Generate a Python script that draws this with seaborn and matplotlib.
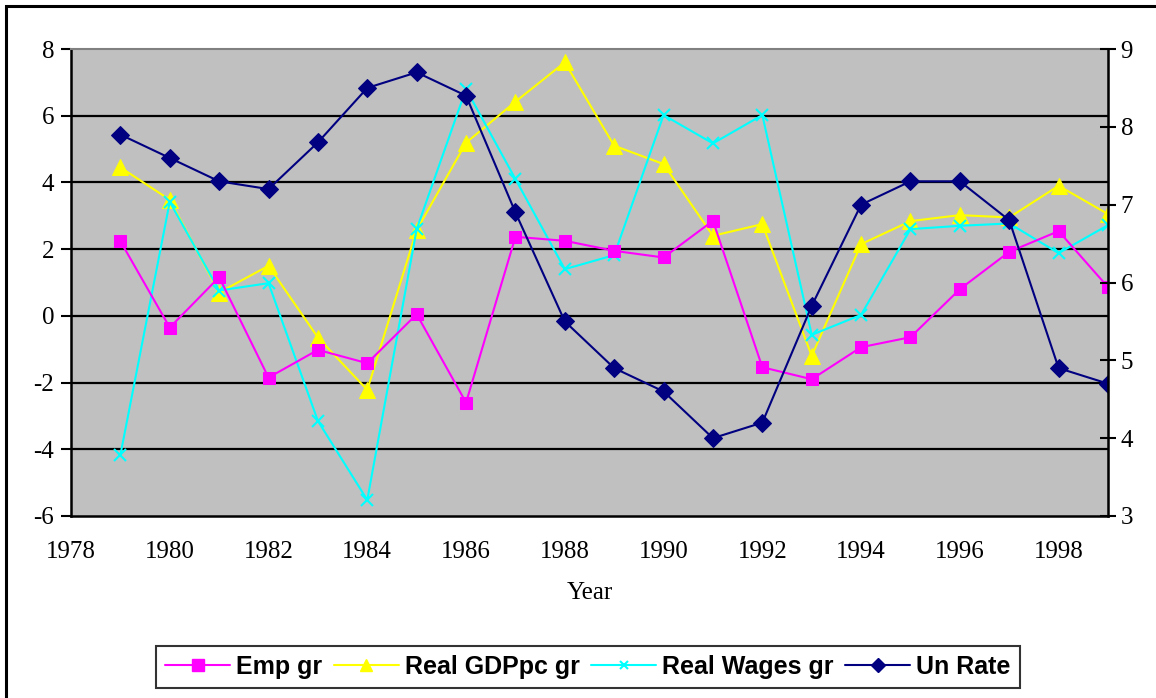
import numpy as np
import pandas as pd
import seaborn as sns
import matplotlib.pyplot as plt
from matplotlib.patches import Rectangle
from matplotlib.lines import Line2D

# data
years = list(range(1979, 2000))
emp_gr = [2.24, -0.35, 1.16, -1.85, -1.02, -1.42, 0.05, -2.6, 2.37, 2.25, 1.95,
          1.75, 2.85, -1.54, -1.9, -0.94, -0.64, 0.8, 1.92, 2.54, 0.86]
gdp_gr = [4.45, 3.48, 0.7, 1.5, -0.65, -2.22, 2.57, 5.19, 6.42, 7.6, 5.1,
          4.55, 2.4, 2.75, -1.2, 2.15, 2.84, 3.02, 2.95, 3.9, 3.05]
wages_gr = [-4.17, 3.42, 0.76, 0.98, -3.15, -5.52, 2.6, 6.8, 4.1, 1.4, 1.82,
            6.02, 5.17, 6.02, -0.57, 0.03, 2.6, 2.7, 2.77, 1.88, 2.72]
un_rate = [7.9, 7.6, 7.3, 7.2, 7.8, 8.5, 8.7, 8.4, 6.9, 5.5, 4.9,
           4.6, 4.0, 4.2, 5.7, 7.0, 7.3, 7.3, 6.8, 4.9, 4.7]

x_ticks = list(range(1978, 1999, 2))
left_ticks = list(range(-6, 9, 2))
right_ticks = list(range(3, 10))

df = pd.DataFrame({"Year": years, "Emp gr": emp_gr, "Real GDPpc gr": gdp_gr,
                   "Real Wages gr": wages_gr, "Un Rate": un_rate})

sns.set_style("white")
plt.rcParams["font.family"] = ["Liberation Serif", "DejaVu Serif"]
plt.rcParams["axes.unicode_minus"] = False
plt.rcParams["text.color"] = "black"
plt.rcParams["axes.labelcolor"] = "black"

fig = plt.figure(figsize=(11.56, 6.98), dpi=100)
ax = fig.add_axes([71 / 1156, 1 - 516 / 698, (1108 - 71) / 1156, (516 - 49) / 698])
ax.set_facecolor("#c0c0c0")

# outer chart frame
fig.patches.append(Rectangle((6 / 1156, -0.05), 1.1, 1 - 6 / 698 + 0.05,
                             transform=fig.transFigure, fill=False,
                             edgecolor="black", linewidth=2.2, zorder=0))

for yv in left_ticks[1:-1]:
    ax.axhline(yv, color="black", linewidth=1.6, zorder=0.5)

sns.lineplot(data=df, x="Year", y="Emp gr", ax=ax, color="#ff00ff", marker="s",
             markersize=9, markeredgecolor="#ff00ff", linewidth=1.5, zorder=3)
sns.lineplot(data=df, x="Year", y="Real GDPpc gr", ax=ax, color="#ffff00", marker="^",
             markersize=11, markeredgecolor="#ffff00", linewidth=1.5, zorder=2)
sns.lineplot(data=df, x="Year", y="Real Wages gr", ax=ax, color="#00ffff", marker="x",
             markersize=8, markeredgewidth=1.5, markeredgecolor="#00ffff",
             linewidth=1.5, zorder=2.5)

ax.set_xlim(1978, 1999)
ax.set_ylim(-6, 8)
ax.set_xticks(x_ticks)
ax.set_yticks(left_ticks)
ax.tick_params(axis="both", direction="out", length=7, width=1.5, labelsize=18,
               colors="black", pad=5)
ax.tick_params(axis="x", pad=11)
ax.set_xlabel("Year", fontsize=18, labelpad=14)
ax.set_ylabel("")
for side in ["left", "bottom"]:
    ax.spines[side].set_color("black")
    ax.spines[side].set_linewidth(1.8)
ax.spines["top"].set_color("#808080")
ax.spines["top"].set_linewidth(1.5)

ax2 = ax.twinx()
sns.lineplot(data=df, x="Year", y="Un Rate", ax=ax2, color="#000080", marker="D",
             markersize=9, markeredgecolor="#000080", linewidth=1.5)
ax2.set_ylim(3, 9)
ax2.set_yticks(right_ticks)
ax2.set_ylabel("")
ax2.tick_params(axis="y", direction="inout", length=12, width=1.5, labelsize=18,
                colors="black", pad=3)
ax2.spines["right"].set_color("black")
ax2.spines["right"].set_linewidth(1.8)
for side in ["top", "left", "bottom"]:
    ax2.spines[side].set_visible(False)

handles = [
    Line2D([], [], color="#ff00ff", marker="s", markersize=8, linewidth=1.5),
    Line2D([], [], color="#ffff00", marker="^", markersize=9, linewidth=1.5),
    Line2D([], [], color="#00ffff", marker="x", markersize=6, markeredgewidth=1.5, linewidth=1.5),
    Line2D([], [], color="#000080", marker="D", markersize=7, linewidth=1.5),
]
labels = ["Emp gr", "Real GDPpc gr", "Real Wages gr", "Un Rate"]
leg = fig.legend(handles, labels, loc="center", bbox_to_anchor=(588 / 1156, 1 - 667 / 698),
                 ncol=4, frameon=True, fancybox=False, handlelength=2.6,
                 handletextpad=0.25, columnspacing=0.45, borderpad=0.35,
                 prop={"family": ["Liberation Sans", "DejaVu Sans"], "weight": "bold", "size": 18})
leg.get_frame().set_edgecolor("black")
leg.get_frame().set_linewidth(1.5)

fig.savefig("out.png", dpi=100)
